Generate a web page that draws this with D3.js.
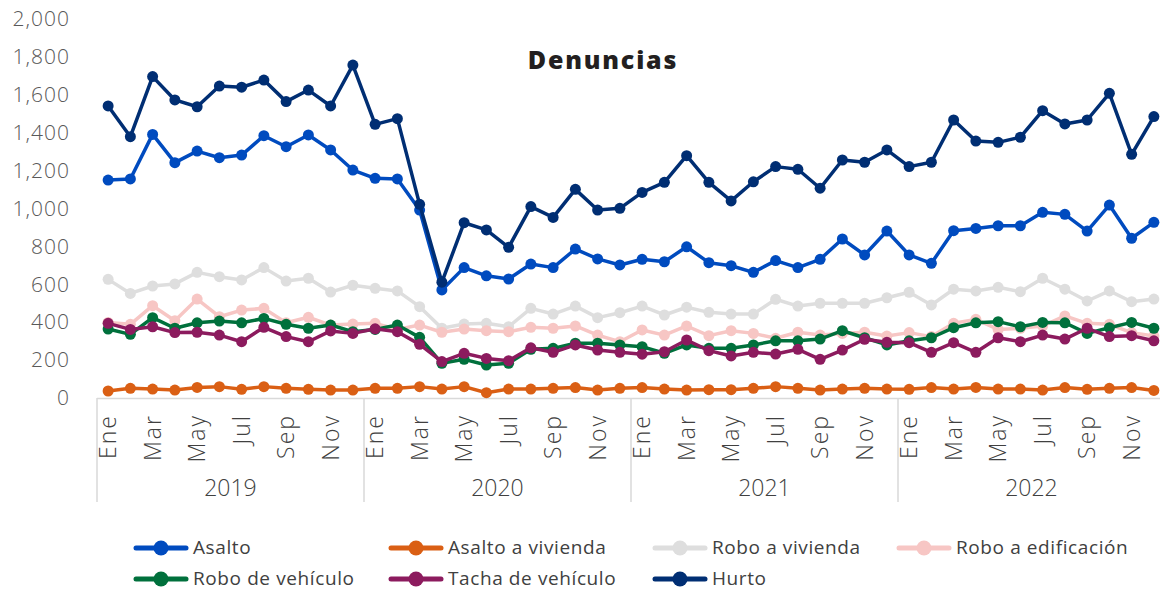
<!DOCTYPE html>
<html>
<head>
<meta charset="utf-8">
<script src="https://cdn.jsdelivr.net/npm/d3@7"></script>
<style>
  body { margin: 0; background: #fff; }
  svg { display: block; font-family: "Open Sans", sans-serif; }
</style>
</head>
<body>
<div id="chart"></div>
<script>
// months shown on the axis (every other one gets a label)
const monthNames = ["Ene","Feb","Mar","Abr","May","Jun","Jul","Ago","Sep","Oct","Nov","Dic"];
const years = ["2019", "2020", "2021", "2022"];
const yTicks = [0, 200, 400, 600, 800, 1000, 1200, 1400, 1600, 1800, 2000];

// series values, Jan 2019 .. Dec 2022
const asalto = [1150,1156,1391,1242,1303,1268,1282,1384,1326,1388,1309,1203,
  1159,1156,992,570,688,645,628,707,688,786,734,702,
  732,719,798,714,698,663,725,688,732,839,755,881,
  755,711,883,895,909,909,980,969,881,1018,843,927];
const asaltoVivienda = [37,51,47,42,56,60,46,60,51,46,42,42,
  51,51,60,47,60,28,47,47,51,55,42,51,
  55,47,42,44,44,51,60,51,42,47,51,47,
  46,55,47,56,47,47,42,55,46,51,55,40];
const roboVivienda = [626,552,591,602,663,640,623,688,617,632,559,595,
  579,565,482,368,390,394,376,473,443,485,424,450,
  485,438,479,452,443,443,521,485,500,500,500,529,
  558,491,574,565,584,561,632,574,512,565,508,522];
const roboEdificacion = [399,389,487,408,522,429,464,473,397,426,385,390,
  394,362,385,347,364,355,350,373,368,380,332,297,
  359,332,380,329,355,341,315,347,332,341,347,327,
  345,324,394,415,362,368,380,433,394,389,345,327];
const roboVehiculo = [364,336,424,368,397,406,397,420,389,368,385,350,
  362,385,320,183,204,174,183,257,262,289,289,280,
  271,236,280,262,262,280,302,302,311,355,318,280,
  302,318,371,397,403,376,399,397,341,371,399,368];
const tachaVehiculo = [394,362,376,345,347,332,297,373,324,297,354,341,
  365,350,283,192,236,209,197,265,241,280,253,241,
  231,244,306,250,222,241,232,257,204,253,310,294,
  292,241,292,241,318,297,332,311,368,324,329,302];
const hurto = [1541,1379,1696,1573,1537,1646,1640,1678,1564,1625,1541,1757,
  1444,1474,1022,611,925,887,795,1010,953,1101,992,1001,
  1085,1138,1279,1138,1040,1141,1221,1207,1107,1256,1244,1309,
  1221,1244,1467,1356,1349,1376,1516,1446,1467,1608,1286,1485];

const series = [
  {name: "Asalto", values: asalto, color: "#004BBF"},
  {name: "Asalto a vivienda", values: asaltoVivienda, color: "#DA5F14"},
  {name: "Robo a vivienda", values: roboVivienda, color: "#DEDEDE"},
  {name: "Robo a edificación", values: roboEdificacion, color: "#F7C6C4"},
  {name: "Robo de vehículo", values: roboVehiculo, color: "#00703C"},
  {name: "Tacha de vehículo", values: tachaVehiculo, color: "#8C1B5E"},
  {name: "Hurto", values: hurto, color: "#002E73"}
];

const width = 1160;
const height = 592;
const marginLeft = 97;
const plotRight = 1165;
const yBottom = 398;
const yTop = 19;

const months = d3.range(years.length * 12);

const x = d3.scaleBand()
  .domain(months)
  .range([marginLeft, plotRight]);

const y = d3.scaleLinear()
  .domain([0, 2000])
  .range([yBottom, yTop]);

const svg = d3.select("#chart").append("svg")
  .attr("width", width)
  .attr("height", height)
  .attr("viewBox", [0, 0, width, height]);

// title
svg.append("text")
  .attr("x", 603)
  .attr("y", 69)
  .attr("text-anchor", "middle")
  .attr("font-size", 25)
  .attr("font-weight", 800)
  .attr("letter-spacing", 1.8)
  .attr("fill", "#231f20")
  .text("Denuncias");

// y axis labels (no line, no grid)
svg.append("g")
  .attr("transform", `translate(${marginLeft},0)`)
  .call(d3.axisLeft(y).tickValues(yTicks).tickSize(0).tickPadding(27).tickFormat(d3.format(",")))
  .call(g => g.select(".domain").remove())
  .call(g => g.selectAll("text")
    .attr("font-family", "Open Sans, sans-serif")
    .attr("font-size", 21)
    .attr("font-weight", 300)
    .attr("letter-spacing", 1)
    .attr("fill", "#595959"));

// category axis: baseline + year separators
const axisColor = "#D9D9D9";
svg.append("line")
  .attr("x1", marginLeft).attr("x2", plotRight)
  .attr("y1", yBottom + 0.5).attr("y2", yBottom + 0.5)
  .attr("stroke", axisColor).attr("stroke-width", 1.5);

svg.append("g")
  .selectAll("line")
  .data(d3.range(years.length + 1))
  .join("line")
  .attr("x1", i => i < years.length ? x(i * 12) : plotRight)
  .attr("x2", i => i < years.length ? x(i * 12) : plotRight)
  .attr("y1", yBottom)
  .attr("y2", 502)
  .attr("stroke", axisColor)
  .attr("stroke-width", 1.5);

// month labels, rotated
svg.append("g")
  .selectAll("text")
  .data(months.filter(i => i % 2 === 0))
  .join("text")
  .attr("transform", i => `translate(${x(i) + x.bandwidth() / 2},414) rotate(-90)`)
  .attr("dy", "0.35em")
  .attr("text-anchor", "end")
  .attr("font-size", 23)
  .attr("font-weight", 300)
  .attr("letter-spacing", 2)
  .attr("fill", "#404040")
  .text(i => monthNames[i % 12]);

// year labels
svg.append("g")
  .selectAll("text")
  .data(years)
  .join("text")
  .attr("x", (d, i) => (x(i * 12) + (i < years.length - 1 ? x((i + 1) * 12) : plotRight)) / 2)
  .attr("y", 496)
  .attr("text-anchor", "middle")
  .attr("font-size", 23)
  .attr("font-weight", 300)
  .attr("fill", "#404040")
  .text(d => d);

// lines + markers
const line = d3.line()
  .x((d, i) => x(i) + x.bandwidth() / 2)
  .y(d => y(d));

const gSeries = svg.append("g")
  .selectAll("g")
  .data(series)
  .join("g");

gSeries.append("path")
  .attr("fill", "none")
  .attr("stroke", d => d.color)
  .attr("stroke-width", 3.5)
  .attr("stroke-linejoin", "round")
  .attr("d", d => line(d.values));

gSeries.selectAll("circle")
  .data(d => d.values.map(v => ({v, color: d.color})))
  .join("circle")
  .attr("cx", (d, i) => x(i) + x.bandwidth() / 2)
  .attr("cy", d => y(d.v))
  .attr("r", 5.5)
  .attr("fill", d => d.color);

// legend
const legendPos = [[136, 548], [391, 548], [655, 548], [899, 548], [136, 579], [391, 579], [655, 579]];
const legend = svg.append("g")
  .selectAll("g")
  .data(series)
  .join("g")
  .attr("transform", (d, i) => `translate(${legendPos[i][0]},${legendPos[i][1]})`);

legend.append("line")
  .attr("x1", 0).attr("x2", 50)
  .attr("stroke", d => d.color)
  .attr("stroke-width", 5)
  .attr("stroke-linecap", "round");

legend.append("circle")
  .attr("cx", 25)
  .attr("r", 7.5)
  .attr("fill", d => d.color);

legend.append("text")
  .attr("x", 57)
  .attr("dy", "0.32em")
  .attr("font-size", 19)
  .attr("font-weight", 400)
  .attr("letter-spacing", 0.6)
  .attr("fill", "#404040")
  .text(d => d.name);
</script>
</body>
</html>
